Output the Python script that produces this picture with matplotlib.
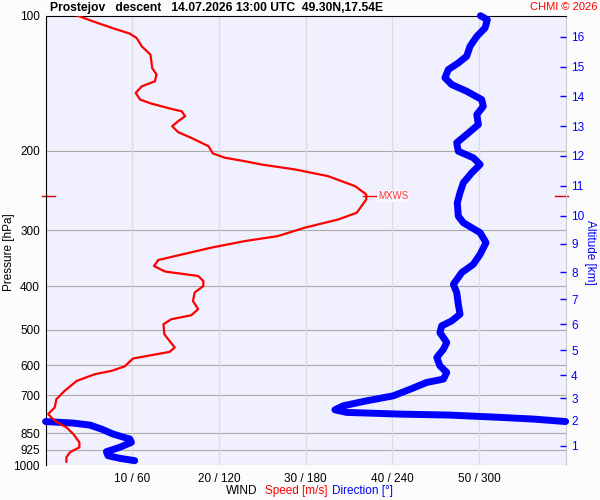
import numpy as np
import matplotlib.pyplot as plt
from matplotlib.ticker import NullLocator

plt.rcParams['font.family'] = ['Liberation Sans', 'DejaVu Sans']

# wind speed profile [m/s] vs pressure [hPa]
speed_p = [100, 103.8, 107.0, 109.6, 112.1, 117.0, 122.1, 130.7, 135.2, 140.0,
           143.6, 148.5, 153.7, 156.9, 161.2, 163.2, 167.4, 171.7, 176.2, 181.7,
           187.0, 195.2, 202.6, 207.1, 210.8, 214.4, 219.9, 227.6, 239.5, 249.9,
           256.4, 274.5, 284.0, 296.4, 309.4, 317.4, 328.3, 341.5, 349.8, 360.7,
           371.1, 374.4, 379.6, 389.4, 399.5, 413.2, 431.4, 450.1, 464.2, 473.8,
           486.1, 511.6, 529.5, 547.6, 560.1, 569.6, 579.3, 603.6, 617.3, 627.8,
           649.7, 683.8, 713.5, 744.4, 770.4, 797.3, 824.6, 853.3, 890.4, 913.4,
           937.1, 961.3, 983.3]
speed = [3.7, 6.0, 8.0, 9.7, 10.5, 11.1, 12.1, 12.3, 12.8, 12.6,
         11.1, 10.4, 10.9, 12.2, 14.5, 15.7, 16.1, 15.3, 14.6, 15.3,
         16.8, 18.8, 19.3, 20.7, 23.0, 24.9, 28.8, 32.6, 35.7, 37.0,
         37.0, 35.9, 33.8, 29.9, 26.8, 23.0, 19.1, 15.3, 13.0, 12.5,
         13.8, 15.3, 17.6, 18.2, 18.2, 17.2, 17.0, 17.6, 16.8, 14.5,
         13.6, 13.7, 14.3, 14.9, 14.3, 12.2, 10.1, 9.1, 7.6, 5.7,
         3.6, 2.2, 1.25, 1.05, 0.3, 1.05, 2.4, 3.2, 3.9, 3.9,
         2.8, 2.4, 2.4]

# wind direction profile [deg] vs pressure [hPa]
dir_p = [100, 102.1, 106.5, 111.2, 117.0, 123.1, 127.4, 131.8, 137.5, 142.3,
         147.3, 153.7, 159.1, 166.0, 174.7, 183.8, 191.8, 200.3, 207.1, 214.4,
         223.7, 235.4, 247.7, 260.8, 279.3, 288.9, 304.0, 320.0, 339.7, 357.6,
         373.0, 396.1, 413.2, 438.6, 461.8, 477.9, 490.3, 507.2, 533.8, 552.4,
         576.4, 601.7, 622.3, 644.0, 655.0, 677.0, 701.5, 719.6, 738.3, 753.6,
         763.7, 770.4, 774.3, 783.4, 790.3, 799.7, 801.3, 806.6, 814.9, 831.8,
         853.3, 875.5, 890.4, 913.4, 934.2, 953.5, 966.2, 978.0]
direction = [301, 305.8, 304.2, 298.5, 293.8, 291.5, 285.7, 278.8, 276.5, 281.1,
             291.5, 301.9, 303.0, 298.5, 299.6, 291.5, 284.6, 285.7, 296.1, 300.8,
             295.0, 289.2, 286.9, 285.0, 285.7, 289.2, 300.8, 304.9, 300.8, 296.1,
             288.1, 282.3, 284.6, 285.7, 286.9, 281.1, 274.2, 273.0, 277.7, 275.4,
             270.8, 273.0, 277.7, 275.4, 263.8, 253.0, 240.7, 222.3, 206.1, 200.3,
             208.4, 245.3, 280.0, 314.6, 337.7, 358.5, 2.8, 19.0, 30.6, 38.7,
             46.7, 58.3, 59.4, 51.3, 42.1, 43.2, 51.3, 61.7]

p_levels = [100, 200, 300, 400, 500, 600, 700, 850, 925, 1000]
speed_ticks = [10, 20, 30, 40, 50]
alt_km = list(range(1, 17))
alt_p = [906, 798, 710, 631, 555, 486, 428, 372, 322, 279, 239, 205, 176, 151, 130, 111.5]
mxws_p = 252
mxws_speed = 37.0

fig = plt.figure(figsize=(6, 5), dpi=100, facecolor='#fcfcfc')
ax = fig.add_axes([0.076, 0.07, 0.8667, 0.8986])
ax.set_facecolor('#f0f0fe')
ax.set_yscale('log')
ax.set_ylim(1000, 100)
ax.set_xlim(0, 60)

# grid
for p in p_levels[1:]:
    ax.axhline(p, color='#aaaaaa', lw=0.8, zorder=1)
for s in speed_ticks:
    ax.axvline(s, color='#dcdcdc', lw=0.9, zorder=1)

# direction: split where it wraps 360 -> 0
d = np.array(direction)
pp = np.array(dir_p)
cut = np.where(np.abs(np.diff(d)) > 180)[0]
starts = [0] + list(cut + 1)
ends = list(cut + 1) + [len(d)]
for a, b in zip(starts, ends):
    xs = list(d[a:b])
    ys = list(pp[a:b])
    if b < len(d):
        d1, d2 = d[b - 1], d[b] + 360
        f = (360 - d1) / (d2 - d1)
        pe = np.exp(np.log(pp[b - 1]) + f * (np.log(pp[b]) - np.log(pp[b - 1])))
        xs.append(360); ys.append(pe)
    if a > 0:
        d1, d2 = d[a - 1] - 360, d[a]
        f = (0 - d1) / (d2 - d1)
        pe = np.exp(np.log(pp[a - 1]) + f * (np.log(pp[a]) - np.log(pp[a - 1])))
        xs.insert(0, 0); ys.insert(0, pe)
    ax.plot(np.array(xs) / 6, ys, color='#0000ff', lw=5, solid_capstyle='round',
            solid_joinstyle='round', zorder=3, clip_on=False)

ax.plot(speed, speed_p, color='#ff0000', lw=1.6, zorder=4, solid_joinstyle='round')

# max wind marker
ax.plot([mxws_speed - 0.4, mxws_speed + 1.1], [mxws_p, mxws_p], color='#ff0000', lw=1, zorder=5)
ax.text(mxws_speed + 1.4, mxws_p, 'MXWS', color='#ff3333', fontsize=7, va='center',
        zorder=6, bbox=dict(facecolor='#f8f8ff', edgecolor='none', pad=0.5))
yt = ax.get_yaxis_transform()
ax.plot([-0.006, 0.019], [mxws_p, mxws_p], color='#dd0000', lw=1, transform=yt, clip_on=False)
ax.plot([0.98, 1.004], [mxws_p, mxws_p], color='#dd0000', lw=1, transform=yt, clip_on=False)

# axes styling
ax.set_yticks(p_levels)
ax.set_yticklabels([str(p) for p in p_levels])
ax.yaxis.set_minor_locator(NullLocator())
ax.set_xticks(speed_ticks)
ax.set_xticklabels([f'{s} / {s * 6}' for s in speed_ticks])
ax.tick_params(axis='y', length=0, pad=4, labelsize=8.5)
ax.tick_params(axis='x', length=0, pad=6, labelsize=8.5)
ax.spines['bottom'].set_visible(False)
ax.spines['right'].set_color('#cccccc')
ax.spines['left'].set_color('black')
ax.spines['top'].set_color('black')

ax2 = ax.twinx()
ax2.set_yscale('log')
ax2.set_ylim(1000, 100)
ax2.set_yticks(alt_p)
ax2.set_yticklabels([str(k) for k in alt_km])
ax2.yaxis.set_minor_locator(NullLocator())
ax2.tick_params(axis='y', direction='in', length=4.5, width=1, color='#0000ff',
                labelcolor='#0000ff', pad=4, labelsize=8.5)
for sp in ax2.spines.values():
    sp.set_visible(False)

fig.text(9 / 600, 1 - 252 / 500, 'Pressure [hPa]', fontsize=8.5, rotation=90,
         ha='center', va='center')
fig.text(590 / 600, 1 - 252 / 500, 'Altitude [km]', color='#0000ff', fontsize=8.5,
         rotation=-90, ha='center', va='center')

fig.text(0.083, 0.985, 'Prostejov   descent   14.07.2026 13:00 UTC  49.30N,17.54E',
         fontsize=8.7, fontweight='bold', va='center')
fig.text(0.995, 0.985, 'CHMI © 2026', color='#ff0000', fontsize=8, ha='right', va='center')
fig.text(0.376, 0.018, 'WIND', fontsize=8.5, va='center')
fig.text(0.441, 0.018, 'Speed [m/s]', color='#ff0000', fontsize=8.5, va='center')
fig.text(0.553, 0.018, 'Direction [°]', color='#0000ff', fontsize=8.5, va='center')

fig.savefig('out.png', dpi=100, facecolor=fig.get_facecolor())
